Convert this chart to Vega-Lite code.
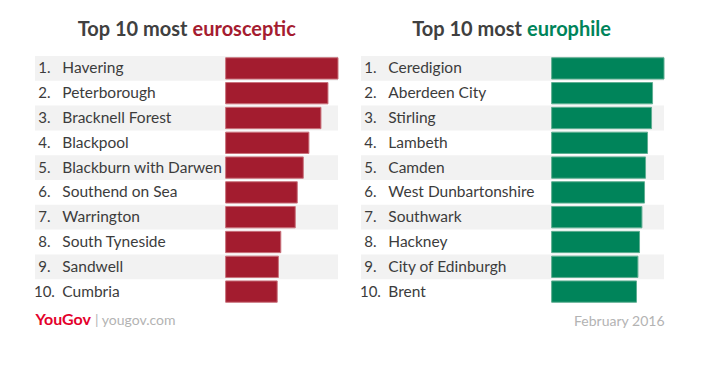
{
  "$schema": "https://vega.github.io/schema/vega-lite/v6.json",
  "background": "white",
  "padding": {"left": 33, "top": 20, "right": 40, "bottom": 5},
  "config": {
    "view": {"stroke": null},
    "font": "Lato",
    "concat": {"spacing": 20}
  },
  "datasets": {
    "sceptic": [
      {"rank": 1, "name": "Havering", "score": 56},
      {"rank": 2, "name": "Peterborough", "score": 51},
      {"rank": 3, "name": "Bracknell Forest", "score": 47.5},
      {"rank": 4, "name": "Blackpool", "score": 41.5},
      {"rank": 5, "name": "Blackburn with Darwen", "score": 38.7},
      {"rank": 6, "name": "Southend on Sea", "score": 35.7},
      {"rank": 7, "name": "Warrington", "score": 34.7},
      {"rank": 8, "name": "South Tyneside", "score": 27.5},
      {"rank": 9, "name": "Sandwell", "score": 26.3},
      {"rank": 10, "name": "Cumbria", "score": 25.7}
    ],
    "phile": [
      {"rank": 1, "name": "Ceredigion", "score": 56},
      {"rank": 2, "name": "Aberdeen City", "score": 50.3},
      {"rank": 3, "name": "Stirling", "score": 49.8},
      {"rank": 4, "name": "Lambeth", "score": 47.8},
      {"rank": 5, "name": "Camden", "score": 46.8},
      {"rank": 6, "name": "West Dunbartonshire", "score": 46.3},
      {"rank": 7, "name": "Southwark", "score": 45},
      {"rank": 8, "name": "Hackney", "score": 43.8},
      {"rank": 9, "name": "City of Edinburgh", "score": 43},
      {"rank": 10, "name": "Brent", "score": 42.3}
    ]
  },
  "title": {
    "text": "YouGov",
    "subtitle": "|\u00a0yougov.com",
    "orient": "bottom",
    "anchor": "start",
    "frame": "bounds",
    "dx": 57,
    "font": "Lato",
    "fontSize": 16,
    "fontWeight": "bold",
    "color": "#e4002b",
    "subtitleColor": "#b3b3b3",
    "subtitleFont": "Lato",
    "subtitleFontSize": 14,
    "subtitleFontWeight": "normal",
    "subtitlePadding": -14.5,
    "offset": -16,
    "encode": {
      "title": {"update": {"align": {"value": "right"}}},
      "subtitle": {"update": {"align": {"value": "left"}, "dx": {"value": 61}}}
    }
  },
  "hconcat": [
    {
      "width": 303,
      "height": 248,
      "data": {"name": "sceptic"},
      "title": {
        "text": "Top 10 most",
        "subtitle": "eurosceptic",
        "anchor": "middle",
        "frame": "group",
        "dx": 1,
        "offset": 16,
        "font": "Lato",
        "fontSize": 20,
        "fontWeight": "bold",
        "color": "#404040",
        "subtitleFont": "Lato",
        "subtitleFontSize": 20,
        "subtitleFontWeight": "bold",
        "subtitleColor": "#a51c30",
        "subtitlePadding": -20,
        "encode": {
          "title": {"update": {"align": {"value": "right"}}},
          "subtitle": {"update": {"align": {"value": "left"}, "dx": {"value": 6}}}
        }
      },
      "encoding": {
        "y": {"field": "rank", "type": "ordinal", "axis": null, "scale": {"paddingInner": 0, "paddingOuter": 0}}
      },
      "layer": [
        {
          "transform": [{"filter": "datum.rank % 2 == 1"}],
          "mark": {"type": "rect", "color": "#f2f2f2"},
          "encoding": {"x": {"value": 0}, "x2": {"value": "width"}}
        },
        {
          "mark": {"type": "bar", "fill": "#a31c2f", "stroke": "#c9727c", "strokeWidth": 1, "height": {"band": 0.86}},
          "encoding": {
            "x": {"field": "score", "type": "quantitative", "scale": {"domain": [-95, 56], "nice": false, "zero": false}, "axis": null}
          }
        },
        {
          "mark": {"type": "text", "align": "center", "baseline": "middle", "fontSize": 15, "color": "#3c3c3c", "text": {"expr": "datum.rank + '.'"}},
          "encoding": {"x": {"datum": -90.3}}
        },
        {
          "mark": {"type": "text", "align": "left", "baseline": "middle", "fontSize": 15.5, "color": "#3c3c3c"},
          "encoding": {"x": {"datum": -81.4}, "text": {"field": "name"}}
        }
      ]
    },
    {
      "width": 303,
      "height": 248,
      "data": {"name": "phile"},
      "title": {
        "text": "Top 10 most",
        "subtitle": "europhile",
        "anchor": "middle",
        "frame": "group",
        "dx": 9.5,
        "offset": 16,
        "font": "Lato",
        "fontSize": 20,
        "fontWeight": "bold",
        "color": "#404040",
        "subtitleFont": "Lato",
        "subtitleFontSize": 20,
        "subtitleFontWeight": "bold",
        "subtitleColor": "#00845a",
        "subtitlePadding": -20,
        "encode": {
          "title": {"update": {"align": {"value": "right"}}},
          "subtitle": {"update": {"align": {"value": "left"}, "dx": {"value": 14.5}}}
        }
      },
      "encoding": {
        "y": {"field": "rank", "type": "ordinal", "axis": null, "scale": {"paddingInner": 0, "paddingOuter": 0}}
      },
      "layer": [
        {
          "transform": [{"filter": "datum.rank % 2 == 1"}],
          "mark": {"type": "rect", "color": "#f2f2f2"},
          "encoding": {"x": {"value": 0}, "x2": {"value": "width"}}
        },
        {
          "mark": {"type": "bar", "fill": "#00845a", "stroke": "#5fae92", "strokeWidth": 1, "height": {"band": 0.86}},
          "encoding": {
            "x": {"field": "score", "type": "quantitative", "scale": {"domain": [-95, 56], "nice": false, "zero": false},
              "axis": {"title": "February 2016", "titleAnchor": "end", "titleColor": "#b3b3b3", "titleFontWeight": "normal", "titleFontSize": 14, "titleFont": "Lato", "titlePadding": 10, "labels": false, "ticks": false, "domain": false, "grid": false}}
          }
        },
        {
          "mark": {"type": "text", "align": "center", "baseline": "middle", "fontSize": 15, "color": "#3c3c3c", "text": {"expr": "datum.rank + '.'"}},
          "encoding": {"x": {"datum": -90.3}}
        },
        {
          "mark": {"type": "text", "align": "left", "baseline": "middle", "fontSize": 15.5, "color": "#3c3c3c"},
          "encoding": {"x": {"datum": -81.4}, "text": {"field": "name"}}
        }
      ]
    }
  ]
}
